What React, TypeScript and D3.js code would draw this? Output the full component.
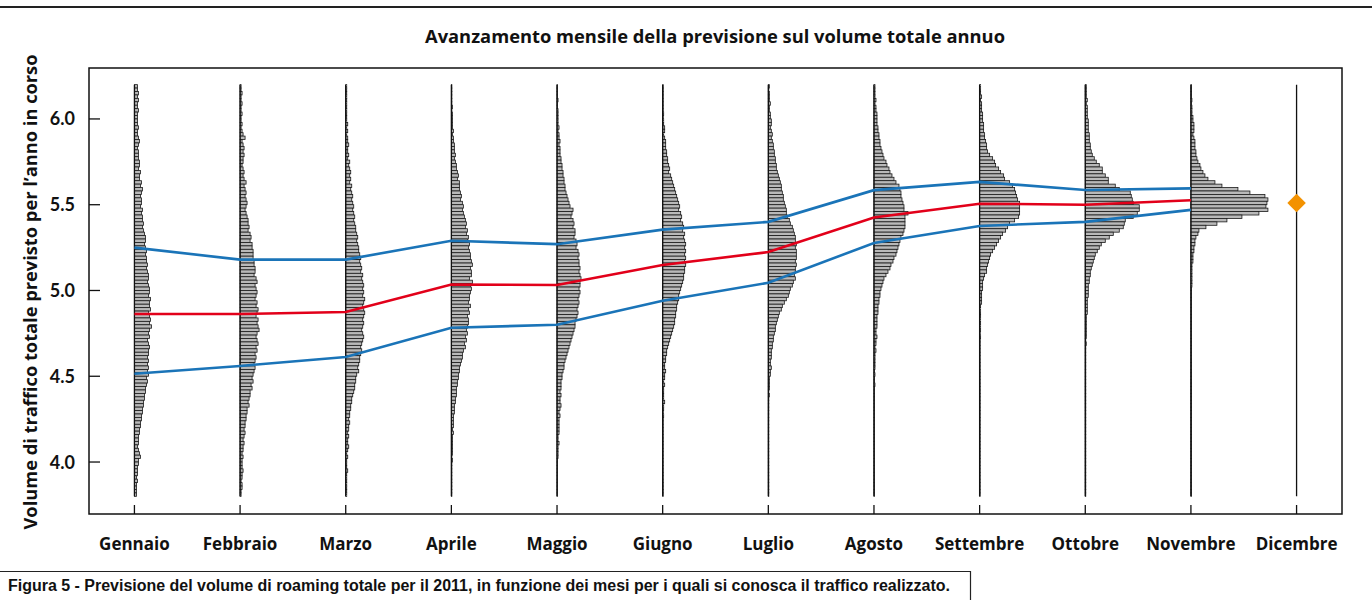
import React from 'react';
import * as d3 from 'd3';

const MONTHS = ['Gennaio', 'Febbraio', 'Marzo', 'Aprile', 'Maggio', 'Giugno', 'Luglio', 'Agosto', 'Settembre', 'Ottobre', 'Novembre', 'Dicembre'];
const UPPER = [5.25, 5.18, 5.18, 5.29, 5.27, 5.355, 5.40, 5.585, 5.633, 5.586, 5.595];
const MEDIAN = [4.863, 4.863, 4.875, 5.035, 5.032, 5.149, 5.224, 5.426, 5.506, 5.50, 5.526];
const LOWER = [4.515, 4.56, 4.612, 4.783, 4.80, 4.94, 5.045, 5.277, 5.376, 5.40, 5.47];
const DEC_ACTUAL = 5.51;
const Y_TICKS = [4.0, 4.5, 5.0, 5.5, 6.0];
const BIN_TOP = 6.2;
const BIN_WIDTH = 0.02;

// histogram counts, bins listed from 6.20 downwards to 3.80
const H_GEN = [
  3,3,4,3,4,3,3,4,3,3, 3,3,4,3,3,4,5,4,3,4, 4,4,5,5,4,6,5,5,7,6, 8,7,6,7,7,6,8,7,8,8,
  9,8,9,10,11,11,10,11,12,11, 12,12,13,12,13,14,14,13,14,15, 15,14,16,15,15,16,14,15,16,15,
  17,15,14,15,13,14,15,14,14,13, 14,13,14,13,14,12,13,12,11,11, 10,10,9,9,8,8,7,7,6,6,
  5,5,4,4,4,3,4,5,6,4, 4,3,3,3,2,3,2,2,2,2];
const H_FEB = [
  1,1,2,1,1,2,1,1,2,1, 1,2,1,2,3,5,2,3,4,3, 4,3,3,2,3,4,3,4,6,4, 5,6,5,6,7,6,5,6,7,8,
  8,9,8,10,11,10,12,12,13,13, 13,14,14,15,15,14,16,17,15,16, 17,16,15,17,16,18,17,16,18,17,
  18,19,17,16,17,18,16,17,15,16, 15,14,15,14,13,12,13,11,12,10, 10,9,8,9,7,7,6,6,5,5,
  4,5,4,3,4,3,3,2,3,2, 2,2,3,2,2,1,2,2,1,1];
const H_MAR = [
  1,1,1,1,1,1,1,1,1,1, 1,2,1,2,1,2,2,3,2,2, 3,2,4,3,4,5,4,5,4,6, 5,6,7,6,7,8,7,8,9,8,
  9,10,10,11,12,11,12,13,13,14, 15,14,15,16,15,17,16,17,18,17, 18,17,19,18,17,18,19,18,17,18,
  17,16,17,18,17,16,15,16,15,14, 14,13,12,13,11,10,10,9,9,8, 7,6,6,5,5,4,4,3,4,3,
  3,2,3,2,2,3,2,1,2,1, 1,1,2,1,1,1,1,1,1,1];
const H_APR = [
  0.5,0.5,0.5,0.5,0.5,0.5,1,0.5,1,1, 1,1,1,2,1,2,2,3,3,3, 4,3,4,5,5,6,7,6,8,8, 8,9,10,9,11,12,11,12,13,14,
  15,14,16,15,17,16,18,17,18,19, 19,20,21,19,20,20,18,21,19,20, 19,18,18,17,19,17,18,16,17,17,
  16,15,16,14,15,13,14,12,11,11, 10,9,8,8,7,7,6,6,5,5, 5,4,4,3,3,3,2,2,2,2,
  1,2,1,1,1,1,1,1,0.5,1, 0.5,0.5,0.5,0.5,0.5,0.5,0.5,0.5,0.5,0.5];
const H_MAG = [
  0.5,0.5,0.5,0.5,1,0.5,0.5,1,1,1, 1,1,2,1,2,2,3,2,3,3, 3,4,4,5,5,6,6,7,7,8, 8,9,10,11,12,13,16,15,14,16,
  17,16,18,18,17,19,20,19,21,22, 21,22,22,23,22,23,24,23,23,22, 23,22,21,22,21,20,21,20,19,18,
  18,17,16,15,14,13,12,11,10,9, 8,7,7,6,5,5,4,4,4,3, 4,3,3,4,3,2,3,2,2,2,
  2,2,1,1,2,1,1,1,1,0.5, 0.5,0.5,0.5,0.5,0.5,0.5,0.5,0.5,0.5,0.5];
const H_GIU = [
  0.5,0.5,0.5,0.5,0.5,0.5,0.5,0.5,1,0.5, 1,1,2,2,1,2,3,3,3,4, 4,5,5,6,7,6,8,9,10,11, 12,13,14,15,16,17,16,18,19,18,
  20,21,20,22,21,22,23,22,23,22, 23,22,23,22,22,21,21,20,19,18, 17,16,16,15,14,14,13,13,12,12,
  11,10,9,8,7,6,5,4,4,3, 3,2,2,3,2,2,1,2,1,1, 1,1,2,1,1,0.5,1,0.5,0.5,0.5,
  0.5,0.5,0.5,0.5,0.5,0.5,0.5,0.5,0.5,0.5, 0.5,0.5,0.5,0.5,0.5,0.5,0.5,0.5,0.5,0.5];
const H_LUG = [
  1,0.5,1,1,1,2,1,1,2,2, 3,3,2,3,4,3,4,5,5,6, 6,7,7,8,8,9,10,11,12,13, 13,14,15,15,16,17,18,18,19,21,
  22,24,25,26,27,27,28,27,28,28, 28,27,28,27,27,26,27,25,24,22, 21,20,18,16,14,13,11,10,9,8,
  7,7,6,5,5,4,4,3,3,3, 2,2,3,2,2,1,1,1,1,0.5, 1,0.5,0.5,0.5,0.5,0.5,0.5,0.5,0.5,0.5,
  0.5,0.5,0.5,0.5,0.5,0.5,0.5,0.5,0.5,0.5, 0.5,0.5,0.5,0.5,0.5,0.5,0.5,0.5,0.5,0.5];
const H_AGO = [
  1,1,1,1,2,1,2,2,3,3, 3,3,4,4,5,5,6,6,7,8, 9,10,12,13,15,16,18,20,22,25, 26,27,27,28,29,30,30,34,31,31,
  31,31,30,29,27,26,25,24,23,22, 20,19,17,16,14,12,10,9,8,7, 6,6,5,5,4,4,4,3,3,3,
  3,2,2,3,2,2,1,2,1,1, 1,1,1,0.5,1,0.5,0.5,1,0.5,0.5, 0.5,0.5,0.5,0.5,0.5,0.5,0.5,0.5,0.5,0.5,
  0.5,0.5,0.5,0.5,0.5,0.5,0.5,0.5,0.5,0.5, 0.5,0.5,0.5,0.5,0.5,0.5,0.5,0.5,0.5,0.5];
const H_SET = [
  1,1,1,2,1,2,2,2,3,3, 3,4,4,4,5,5,6,7,7,8, 10,13,15,16,19,21,24,25,30,33, 35,36,37,38,40,40,40,40,39,35,
  30,28,26,23,21,19,17,15,13,11, 10,9,8,7,7,5,4,3,3,3, 2,2,2,2,1,1,1,1,1,1,
  1,1,0.5,1,0.5,0.5,0.5,0.5,0.5,0.5, 0.5,0.5,0.5,0.5,0.5,0.5,0.5,0.5,0.5,0.5, 0.5,0.5,0.5,0.5,0.5,0.5,0.5,0.5,0.5,0.5,
  0.5,0.5,0.5,0.5,0.5,0.5,0.5,0.5,0.5,0.5, 0.5,0.5,0.5,0.5,0.5,0.5,0.5,0.5,0.5,0.5];
const H_OTT = [
  1,1,1,1,2,1,2,2,2,2, 3,3,3,3,4,4,4,5,5,6, 7,9,11,14,17,17,20,23,23,30, 34,45,46,47,48,54,54,52,48,40,
  39,38,34,28,24,20,16,14,12,10, 9,8,7,6,5,5,4,4,3,3, 3,3,2,2,2,2,2,1,1,1,
  1,1,1,1,0.5,1,0.5,0.5,0.5,0.5, 0.5,0.5,0.5,0.5,0.5,0.5,0.5,0.5,0.5,0.5, 0.5,0.5,0.5,0.5,0.5,0.5,0.5,0.5,0.5,0.5,
  0.5,0.5,0.5,0.5,0.5,0.5,0.5,0.5,0.5,0.5, 0.5,0.5,0.5,0.5,0.5,0.5,0.5,0.5,0.5,0.5];
const H_NOV = [
  0.5,0.5,0.5,0.5,1,0.5,1,1,1,2, 2,3,3,3,2,3,4,4,4,5, 5,6,7,9,10,12,14,17,24,31, 47,59,74,77,76,75,77,68,51,36,
  26,15,8,7,5,4,4,3,3,2, 2,2,1,1,1,1,1,1,1,0.5, 0.5,0.5,0.5,0.5,0.5,0.5,0.5,0.5,0.5,0.5,
  0.5,0.5,0.5,0.5,0.5,0.5,0.5,0.5,0.5,0.5, 0.5,0.5,0.5,0.5,0.5,0.5,0.5,0.5,0.5,0.5, 0.5,0.5,0.5,0.5,0.5,0.5,0.5,0.5,0.5,0.5,
  0.5,0.5,0.5,0.5,0.5,0.5,0.5,0.5,0.5,0.5, 0.5,0.5,0.5,0.5,0.5,0.5,0.5,0.5,0.5,0.5];
const H_DIC: number[] = [];

const HISTS = [H_GEN, H_FEB, H_MAR, H_APR, H_MAG, H_GIU, H_LUG, H_AGO, H_SET, H_OTT, H_NOV, H_DIC];

const TITLE = 'Avanzamento mensile della previsione sul volume totale annuo';
const Y_LABEL = 'Volume di traffico totale previsto per l\u2019anno in corso';
const CAPTION = 'Figura 5 - Previsione del volume di roaming totale per il 2011, in funzione dei mesi per i quali si conosca il traffico realizzato.';

const FONT = 'Lato, "Open Sans", sans-serif';
const FONT_WIDE = '"Open Sans", Lato, sans-serif';

export default function App() {
  const W = 1372;
  const H = 600;
  const left = 89, right = 1342, top = 68, bottom = 514;
  const x = d3.scalePoint<string>().domain(MONTHS).range([left, right]).padding(0.43);
  const y = d3.scaleLinear().domain([3.697, 6.297]).range([bottom, top]);
  const w = d3.scaleLinear().domain([0, 80]).range([0, 80]);
  const nBins = 120;
  const histBottom = BIN_TOP - nBins * BIN_WIDTH;

  const lineGen = d3.line<number>()
    .x((_, i) => x(MONTHS[i]) as number)
    .y((d) => y(d));

  const diamond = d3.symbol().type(d3.symbolSquare).size(170)();

  return (
    <svg width={W} height={H} style={{ position: 'absolute', left: 0, top: 0, display: 'block', background: '#fff' }}>
      <line x1={0} x2={W} y1={7} y2={7} stroke="#222" strokeWidth={2} />
      <text x={715} y={43} textAnchor="middle" fontFamily={FONT_WIDE} fontWeight={700} fontSize={17} fill="#111"
        textLength={580} lengthAdjust="spacingAndGlyphs">{TITLE}</text>

      <g>
        {MONTHS.map((m, i) => {
          const cx = x(m) as number;
          const hist = HISTS[i];
          return (
            <g key={m}>
              {hist.map((c, k) => {
                const hi = BIN_TOP - k * BIN_WIDTH;
                const lo = hi - BIN_WIDTH;
                return (
                  <rect key={k} x={cx} y={y(hi)} width={w(c)} height={y(lo) - y(hi)}
                    fill="#b9b9b9" stroke="#1a1a1a" strokeWidth={0.8} />
                );
              })}
              <line x1={cx} x2={cx} y1={y(BIN_TOP)} y2={y(histBottom)} stroke="#111" strokeWidth={1.3} />
            </g>
          );
        })}
      </g>

      <path d={lineGen(UPPER) || ''} fill="none" stroke="#1a74b8" strokeWidth={2.6} />
      <path d={lineGen(LOWER) || ''} fill="none" stroke="#1a74b8" strokeWidth={2.6} />
      <path d={lineGen(MEDIAN) || ''} fill="none" stroke="#e2001a" strokeWidth={2.6} />
      <path d={diamond || ''} transform={`translate(${x('Dicembre')},${y(DEC_ACTUAL)}) rotate(45)`} fill="#f39200" />

      <rect x={left} y={top} width={right - left} height={bottom - top} fill="none" stroke="#111" strokeWidth={1.5} />

      {Y_TICKS.map((t) => (
        <g key={t}>
          <line x1={left} x2={left + 11} y1={y(t)} y2={y(t)} stroke="#111" strokeWidth={1.3} />
          <text x={75} y={y(t)} dy="0.36em" textAnchor="end" fontFamily={FONT} fontWeight={700} fontSize={18} fill="#111">{t.toFixed(1)}</text>
        </g>
      ))}
      {MONTHS.map((m) => (
        <g key={m}>
          <line x1={x(m)} x2={x(m)} y1={bottom} y2={bottom - 9} stroke="#111" strokeWidth={1.3} />
          <text x={x(m)} y={550} textAnchor="middle" fontFamily={FONT_WIDE} fontWeight={700} fontSize={17} fill="#111">{m}</text>
        </g>
      ))}

      <text transform={`translate(37,${292}) rotate(-90)`} textAnchor="middle" fontFamily={FONT_WIDE} fontWeight={700} fontSize={17} fill="#111"
        textLength={475} lengthAdjust="spacingAndGlyphs">{Y_LABEL}</text>

      <path d={`M0,571.5 H970.5 V600`} fill="none" stroke="#222" strokeWidth={1.2} />
      <text x={8} y={591} fontFamily={'"Liberation Sans Narrow", "Liberation Sans", Arial, sans-serif'} fontWeight={700} fontSize={16} fill="#111"
        textLength={942} lengthAdjust="spacingAndGlyphs">{CAPTION}</text>
    </svg>
  );
}
